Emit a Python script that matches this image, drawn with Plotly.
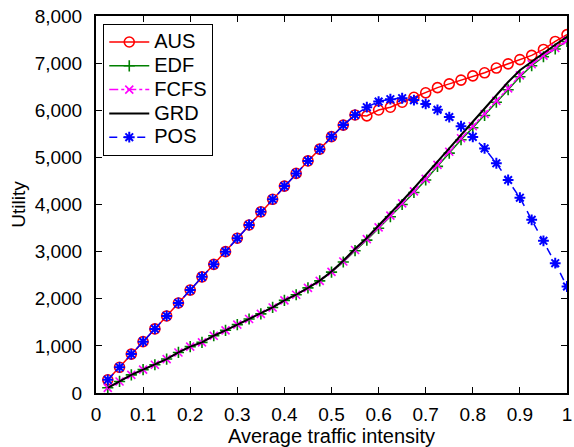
import plotly.graph_objects as go

x_vals = [0.025, 0.05, 0.075, 0.1, 0.125, 0.15, 0.175, 0.2, 0.225, 0.25,
          0.275, 0.3, 0.325, 0.35, 0.375, 0.4, 0.425, 0.45, 0.475, 0.5,
          0.525, 0.55, 0.575, 0.6, 0.625, 0.65, 0.675, 0.7, 0.725, 0.75,
          0.775, 0.8, 0.825, 0.85, 0.875, 0.9, 0.925, 0.95, 0.975, 1.0]

aus = [280, 545, 825, 1090, 1360, 1635, 1910, 2185, 2465, 2730,
       3000, 3285, 3565, 3845, 4110, 4390, 4660, 4925, 5175, 5440,
       5685, 5900, 5880, 6005, 6065, 6170, 6275, 6370, 6480, 6560,
       6640, 6730, 6795, 6895, 6985, 7075, 7165, 7290, 7460, 7605]

edf = [110, 245, 385, 495, 600, 720, 860, 985, 1075, 1215,
       1330, 1450, 1570, 1680, 1815, 1965, 2085, 2230, 2380, 2565,
       2780, 3020, 3245, 3495, 3740, 4000, 4255, 4520, 4810, 5090,
       5375, 5630, 5890, 6170, 6435, 6710, 6945, 7135, 7300, 7460]

fcfs = [110, 245, 385, 495, 600, 720, 860, 985, 1075, 1215,
        1330, 1450, 1570, 1680, 1815, 1965, 2085, 2230, 2380, 2570,
        2790, 3035, 3265, 3515, 3765, 4025, 4280, 4545, 4840, 5120,
        5405, 5660, 5920, 6200, 6465, 6740, 6975, 7160, 7320, 7475]

grd = [110, 245, 385, 495, 600, 720, 860, 985, 1075, 1215,
       1330, 1450, 1570, 1680, 1815, 1965, 2085, 2230, 2385, 2580,
       2805, 3060, 3290, 3555, 3810, 4075, 4345, 4620, 4900, 5190,
       5475, 5760, 6040, 6320, 6600, 6850, 7040, 7210, 7390, 7560]

pos = [280, 545, 825, 1090, 1360, 1635, 1910, 2185, 2465, 2730,
       3000, 3285, 3565, 3845, 4110, 4390, 4660, 4925, 5175, 5440,
       5685, 5900, 6065, 6185, 6235, 6255, 6215, 6135, 6010, 5855,
       5660, 5435, 5190, 4875, 4520, 4145, 3675, 3230, 2755, 2260]

series_names = ["AUS", "EDF", "FCFS", "GRD", "POS"]

x_ticks = [0, 0.1, 0.2, 0.3, 0.4, 0.5, 0.6, 0.7, 0.8, 0.9, 1]
x_tick_text = ["0", "0.1", "0.2", "0.3", "0.4", "0.5", "0.6", "0.7", "0.8", "0.9", "1"]
y_ticks = [0, 1000, 2000, 3000, 4000, 5000, 6000, 7000, 8000]

FONT = "Liberation Sans, Arial, Helvetica, sans-serif"


def legend_name(s):
    return "<span style='font-size:20px'>" + s + "</span>"


fig = go.Figure()
fig.add_trace(go.Scatter(
    x=x_vals, y=aus, name=legend_name(series_names[0]), mode="lines+markers",
    line=dict(color="#ff0000", width=1.5),
    marker=dict(symbol="circle-open", size=10, color="#ff0000",
                line=dict(width=1.6, color="#ff0000"))))
fig.add_trace(go.Scatter(
    x=x_vals, y=edf, name=legend_name(series_names[1]), mode="lines+markers",
    line=dict(color="#008000", width=1.5),
    marker=dict(symbol="cross-thin-open", size=8, color="#008000",
                line=dict(width=1.6, color="#008000"))))
fig.add_trace(go.Scatter(
    x=x_vals, y=fcfs, name=legend_name(series_names[2]), mode="lines+markers",
    line=dict(color="#ff00ff", width=1.5, dash="dashdot"),
    marker=dict(symbol="x-thin-open", size=8, color="#ff00ff",
                line=dict(width=1.6, color="#ff00ff"))))
fig.add_trace(go.Scatter(
    x=x_vals, y=grd, name=legend_name(series_names[3]), mode="lines",
    line=dict(color="#000000", width=2)))
fig.add_trace(go.Scatter(
    x=x_vals, y=pos, name=legend_name(series_names[4]), mode="lines+markers",
    line=dict(color="#0000ff", width=1.5, dash="8px,6px"),
    marker=dict(symbol="asterisk-open", size=9, color="#0000ff",
                line=dict(width=2, color="#0000ff"))))

axis_common = dict(
    showline=True, linecolor="black", linewidth=2, mirror="ticks",
    ticks="inside", ticklen=6, tickwidth=1.2, tickcolor="black",
    showgrid=False, zeroline=False,
    tickfont=dict(family=FONT, size=19, color="black"),
)

fig.update_xaxes(
    range=[0, 1], tickvals=x_ticks, ticktext=x_tick_text,
    title=dict(text="Average traffic intensity",
               font=dict(family=FONT, size=20, color="black"), standoff=0),
    ticklabelstandoff=3,
    **axis_common)
fig.update_yaxes(
    range=[0, 8000], tickvals=y_ticks, tickformat=",d",
    title=dict(text="Utility", font=dict(family=FONT, size=19, color="black"),
               standoff=4),
    ticklabelstandoff=8,
    **axis_common)

fig.update_layout(
    width=574, height=447,
    margin=dict(l=96, r=7, t=16, b=54, autoexpand=False),
    paper_bgcolor="white", plot_bgcolor="white",
    font=dict(family=FONT, color="black"),
    legend=dict(
        x=0.015, y=0.979, xanchor="left", yanchor="top",
        bgcolor="white", bordercolor="black", borderwidth=1.2,
        font=dict(family=FONT, size=16, color="black"),
        tracegroupgap=0, itemwidth=40,
    ),
    showlegend=True,
)

fig.write_html("out.html",
               config={"displayModeBar": False},
               post_script="document.body.style.margin='0';document.body.style.padding='0';")
